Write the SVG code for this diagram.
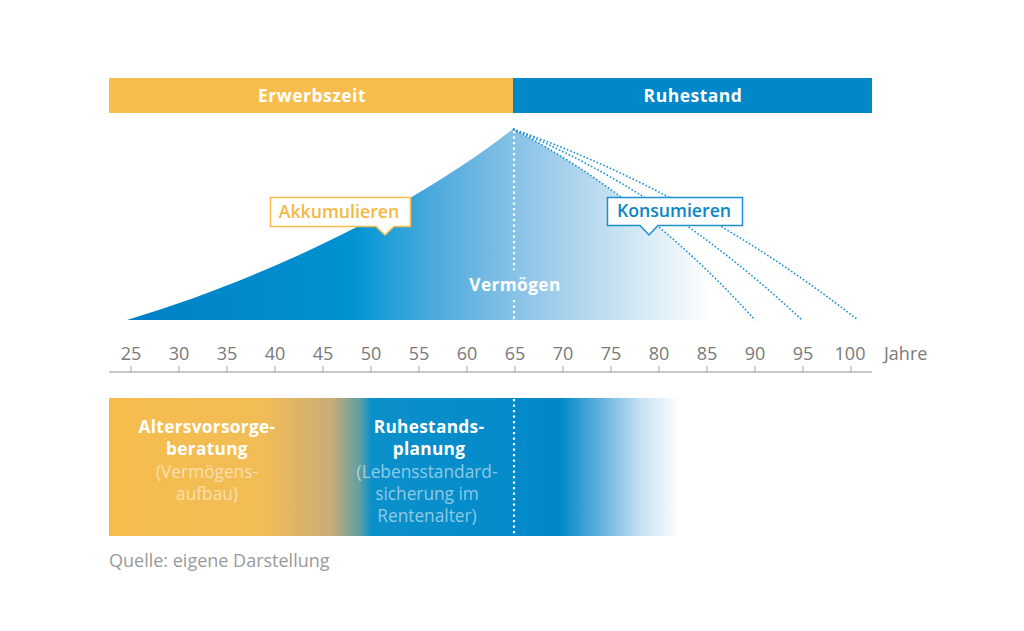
<svg xmlns="http://www.w3.org/2000/svg" width="1024" height="631" viewBox="0 0 1024 631">
<defs>
<linearGradient id="areaGrad" gradientUnits="userSpaceOnUse" x1="127" y1="0" x2="712" y2="0">
<stop offset="0" stop-color="#0080C5"/>
<stop offset="0.38" stop-color="#0092D2"/>
<stop offset="0.42" stop-color="#119BD6"/>
<stop offset="0.52" stop-color="#4AA9DC"/>
<stop offset="0.66" stop-color="#86C1E6"/>
<stop offset="0.84" stop-color="#C8E2F2"/>
<stop offset="1" stop-color="#FFFFFF"/>
</linearGradient>
<linearGradient id="bandGrad" gradientUnits="userSpaceOnUse" x1="109" y1="0" x2="680" y2="0">
<stop offset="0" stop-color="#F6BD4D"/>
<stop offset="0.27" stop-color="#F2BC56"/>
<stop offset="0.39" stop-color="#C8AD78"/>
<stop offset="0.44" stop-color="#5C9EA6"/>
<stop offset="0.46" stop-color="#0B90CA"/>
<stop offset="0.79" stop-color="#0088CA"/>
<stop offset="0.86" stop-color="#62B1DE"/>
<stop offset="0.93" stop-color="#C6E1F2"/>
<stop offset="1" stop-color="#FFFFFF"/>
</linearGradient>
<style>
.txt{font-family:"Open Sans","Liberation Sans",sans-serif}
.bar{font-size:17.5px;font-weight:700;fill:#FFFFFF;letter-spacing:0.5px}
.tick{font-size:18px;fill:#7A7A7A}
.tk{stroke:#B5B5B5;stroke-width:1.3}
.cons{fill:none;stroke:#1C90D0;stroke-width:1.6;stroke-dasharray:1.6 2}
.vdot{stroke:#FFFFFF;stroke-width:2.2;stroke-dasharray:2.2 3.3}
.main{font-size:17.3px;font-weight:700;fill:#FFFFFF;letter-spacing:0.3px}
.sub{font-size:17.3px;fill:#FFFFFF;fill-opacity:0.55}
</style>
</defs>
<rect width="1024" height="631" fill="#FFFFFF"/>

<g id="phase-erwerbszeit">
<rect x="109" y="78" width="404" height="35" fill="#F7BE4F"/>
<text class="txt bar" x="312" y="102" text-anchor="middle">Erwerbszeit</text>
</g>
<g id="phase-ruhestand">
<rect x="513" y="78" width="359" height="35" fill="#0088C9"/>
<text class="txt bar" x="693" y="102" text-anchor="middle">Ruhestand</text>
</g>

<g id="vermoegen-area">
<path d="M127,320 C260,280 410,210 513,129 Q645,198 755,320 Z" fill="url(#areaGrad)"/>
<line class="vdot" x1="514" y1="131" x2="514" y2="270"/>
<line class="vdot" x1="514" y1="300" x2="514" y2="320"/>
<text class="txt" x="515" y="291" text-anchor="middle" font-size="17.3" font-weight="700" fill="#FFFFFF" letter-spacing="0.4">Vermögen</text>
</g>

<g id="connectors">
<path class="cons" d="M513,129 Q645,198 755,320"/>
<path class="cons" d="M513,129 Q665,192 802,320"/>
<path class="cons" d="M513,129 Q695,193 858,320"/>
</g>

<g id="label-akkumulieren">
<path d="M270.5,197.5 H410.5 V226.5 H394 L385,235 L376,226.5 H270.5 Z" fill="#FFFFFF" stroke="#F7BE4F" stroke-width="1.5"/>
<text class="txt" x="339" y="218" text-anchor="middle" font-size="17.7" font-weight="600" fill="#F5B942">Akkumulieren</text>
</g>

<g id="label-konsumieren">
<path d="M607.5,197.5 H742.5 V225.5 H658 L649,235 L640,225.5 H607.5 Z" fill="#FFFFFF" stroke="#1C90D0" stroke-width="1.5"/>
<text class="txt" x="674" y="217" text-anchor="middle" font-size="17.7" font-weight="600" fill="#0A86C8">Konsumieren</text>
</g>

<g id="axis">
<line x1="109" y1="372" x2="872" y2="372" class="tk"/>
<g class="tk">
<line x1="131" y1="366" x2="131" y2="372"/><line x1="179" y1="366" x2="179" y2="372"/>
<line x1="227" y1="366" x2="227" y2="372"/><line x1="275" y1="366" x2="275" y2="372"/>
<line x1="323" y1="366" x2="323" y2="372"/><line x1="371" y1="366" x2="371" y2="372"/>
<line x1="419" y1="366" x2="419" y2="372"/><line x1="467" y1="366" x2="467" y2="372"/>
<line x1="515" y1="366" x2="515" y2="372"/><line x1="563" y1="366" x2="563" y2="372"/>
<line x1="611" y1="366" x2="611" y2="372"/><line x1="659" y1="366" x2="659" y2="372"/>
<line x1="707" y1="366" x2="707" y2="372"/><line x1="755" y1="366" x2="755" y2="372"/>
<line x1="803" y1="366" x2="803" y2="372"/><line x1="851" y1="366" x2="851" y2="372"/>
</g>
<g class="txt tick" text-anchor="middle">
<text x="131" y="360">25</text><text x="179" y="360">30</text><text x="227" y="360">35</text>
<text x="275" y="360">40</text><text x="323" y="360">45</text><text x="371" y="360">50</text>
<text x="419" y="360">55</text><text x="467" y="360">60</text><text x="515" y="360">65</text>
<text x="563" y="360">70</text><text x="611" y="360">75</text><text x="659" y="360">80</text>
<text x="707" y="360">85</text><text x="755" y="360">90</text><text x="803" y="360">95</text>
<text x="850" y="360">100</text>
</g>
<text class="txt tick" x="884" y="360">Jahre</text>
</g>

<g id="band">
<rect x="109" y="398" width="571" height="138" fill="url(#bandGrad)"/>
<line class="vdot" x1="514" y1="399" x2="514" y2="536"/>
</g>

<g id="node-altersvorsorge">
<text class="txt main" x="207" y="433" text-anchor="middle">Altersvorsorge-</text>
<text class="txt main" x="207" y="455" text-anchor="middle">beratung</text>
<text class="txt sub" x="207" y="478" text-anchor="middle">(Vermögens-</text>
<text class="txt sub" x="207" y="500" text-anchor="middle">aufbau)</text>
</g>

<g id="node-ruhestandsplanung">
<text class="txt main" x="429" y="433" text-anchor="middle">Ruhestands-</text>
<text class="txt main" x="429" y="455" text-anchor="middle">planung</text>
<text class="txt sub" x="427" y="478" text-anchor="middle">(Lebensstandard-</text>
<text class="txt sub" x="427" y="500" text-anchor="middle">sicherung im</text>
<text class="txt sub" x="427" y="522" text-anchor="middle">Rentenalter)</text>
</g>

<text class="txt" x="109" y="567" font-size="18" fill="#9A9A9A">Quelle: eigene Darstellung</text>
</svg>
